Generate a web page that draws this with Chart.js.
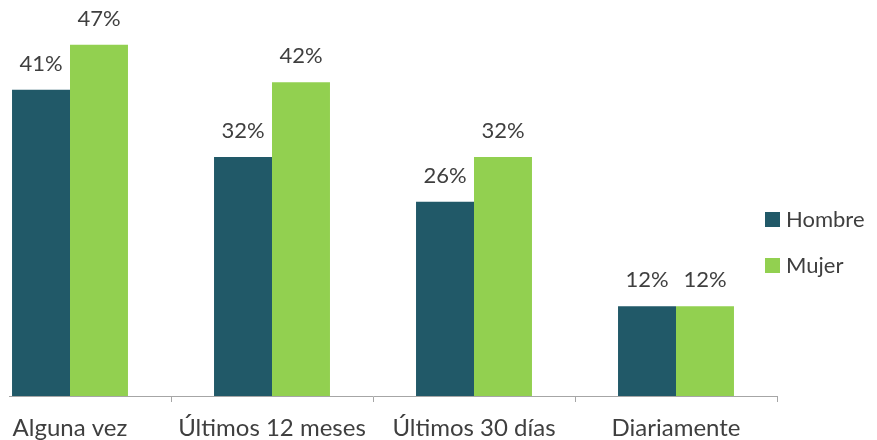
<!DOCTYPE html>
<html>
<head>
<meta charset="utf-8">
<script src="https://cdn.jsdelivr.net/npm/chart.js@4/dist/chart.umd.min.js"></script>
<style>
html,body{margin:0;padding:0;background:#fff;overflow:hidden;}
#wrap{position:absolute;left:-31px;top:0;width:908px;height:440px;}
#mask{position:absolute;left:0;top:392px;width:9px;height:14px;background:#fff;}
</style>
</head>
<body>
<div id="wrap"><canvas id="c"></canvas></div>
<div id="mask"></div>
<script>
const categories = ["Alguna vez", "Últimos 12 meses", "Últimos 30 días", "Diariamente"];
const hombre = [41, 32, 26, 12];
const mujer = [47, 42, 32, 12];
const seriesNames = ["Hombre", "Mujer"];
const colors = ["#215968", "#92D050"];
const FONT = "Lato, 'Open Sans', sans-serif";
const TEXT = "#3f3f3f";

const valueLabels = {
  id: 'valueLabels',
  afterDatasetsDraw(chart) {
    const ctx = chart.ctx;
    ctx.save();
    ctx.font = "22px " + FONT;
    ctx.fillStyle = TEXT;
    ctx.textAlign = 'center';
    ctx.textBaseline = 'alphabetic';
    chart.data.datasets.forEach((ds, di) => {
      const meta = chart.getDatasetMeta(di);
      meta.data.forEach((bar, i) => {
        ctx.fillText(ds.data[i] + '%', bar.x, bar.y - 19);
      });
    });
    ctx.restore();
  }
};

const sideLegend = {
  id: 'sideLegend',
  afterDraw(chart) {
    const ctx = chart.ctx;
    const x0 = chart.chartArea.right - 12;
    const ys = [219, 265];
    ctx.save();
    ctx.font = "22px " + FONT;
    ctx.textBaseline = 'middle';
    ctx.textAlign = 'left';
    chart.data.datasets.forEach((ds, di) => {
      ctx.fillStyle = ds.backgroundColor;
      ctx.fillRect(x0, ys[di] - 7, 15, 15);
      ctx.fillStyle = TEXT;
      ctx.fillText(ds.label, x0 + 21, ys[di] + 1);
    });
    ctx.restore();
  }
};

new Chart(document.getElementById('c'), {
  type: 'bar',
  data: {
    labels: categories,
    datasets: [
      { label: seriesNames[0], data: hombre, backgroundColor: colors[0] },
      { label: seriesNames[1], data: mujer, backgroundColor: colors[1] }
    ]
  },
  options: {
    responsive: true,
    maintainAspectRatio: false,
    animation: false,
    layout: { padding: { left: 0, right: 100, top: 0, bottom: 0 } },
    categoryPercentage: 0.574,
    barPercentage: 1.0,
    plugins: { legend: { display: false }, tooltip: { enabled: false } },
    scales: {
      x: {
        offset: true,
        grid: { display: true, drawOnChartArea: false, drawTicks: true, tickLength: 6, color: '#a6a6a6', offset: true },
        border: { display: true, color: '#a6a6a6', width: 1 },
        ticks: { color: TEXT, font: { family: FONT, size: 24 }, padding: 12, maxRotation: 0, autoSkip: false },
        afterFit(scale) { scale.height = 44; }
      },
      y: {
        display: false,
        min: 0,
        max: 53
      }
    }
  },
  plugins: [valueLabels, sideLegend]
});
</script>
</body>
</html>
